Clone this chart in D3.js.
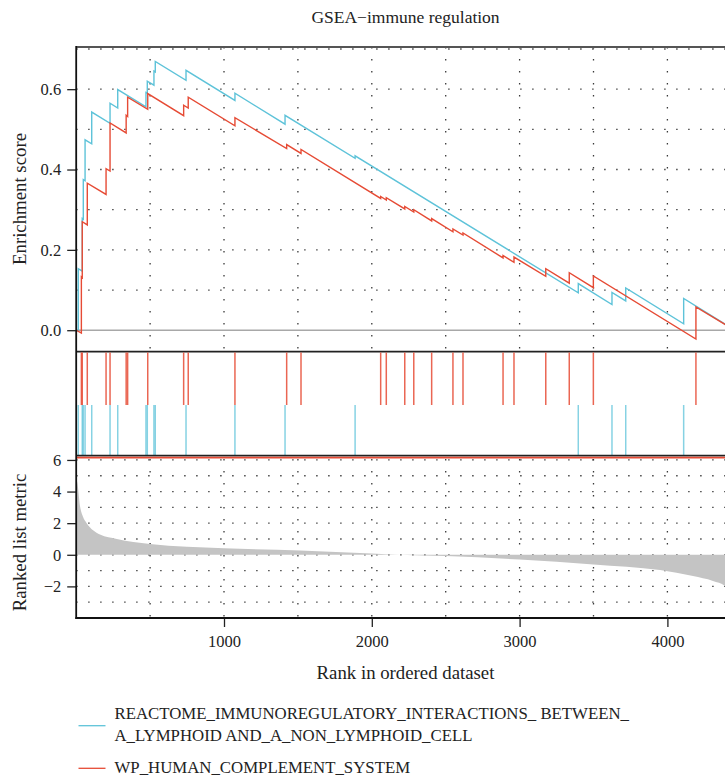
<!DOCTYPE html>
<html><head><meta charset="utf-8">
<script src="https://cdn.jsdelivr.net/npm/d3@7"></script>
<style>
body{margin:0;background:#fff;}
text{font-family:"Liberation Serif","Times New Roman",serif;fill:#222;}
</style></head>
<body><svg id="c" width="725" height="779"></svg>
<script>
const title = "GSEA\u2212immune regulation";
const seriesNames = ["REACTOME_IMMUNOREGULATORY_INTERACTIONS_ BETWEEN_|A_LYMPHOID AND_A_NON_LYMPHOID_CELL", "WP_HUMAN_COMPLEMENT_SYSTEM"];
const seriesColors = ["#5ec3d9", "#e64b35"];
const nGenes = 4456;
// blue: REACTOME set — hit ranks and running ES just before / after each hit
const blueHits   = [14, 41, 48, 60, 105, 229, 281, 472, 481, 526, 535, 743, 1074, 1413, 1887, 3397, 3625, 3718, 4110];
const blueBefore = [-0.002, 0.147, 0.276, 0.372, 0.464, 0.515, 0.553, 0.556, 0.590, 0.610, 0.643, 0.622, 0.572, 0.513, 0.428, 0.093, 0.064, 0.073, 0.016];
const blueAfter  = [0.153, 0.278, 0.375, 0.474, 0.543, 0.565, 0.599, 0.592, 0.620, 0.645, 0.669, 0.647, 0.590, 0.535, 0.434, 0.116, 0.094, 0.105, 0.079];
// red: WP complement set
const redHits   = [35, 41, 75, 202, 229, 338, 348, 484, 727, 758, 1074, 1424, 1521, 2060, 2098, 2223, 2284, 2405, 2549, 2617, 2888, 2962, 3177, 3336, 3499, 4193];
const redBefore = [-0.007, 0.131, 0.262, 0.338, 0.396, 0.491, 0.532, 0.550, 0.534, 0.553, 0.509, 0.452, 0.440, 0.328, 0.324, 0.302, 0.294, 0.272, 0.245, 0.237, 0.180, 0.169, 0.134, 0.117, 0.106, -0.022];
const redAfter  = [0.133, 0.270, 0.366, 0.402, 0.516, 0.535, 0.580, 0.589, 0.560, 0.580, 0.529, 0.462, 0.450, 0.333, 0.330, 0.308, 0.300, 0.278, 0.252, 0.242, 0.186, 0.182, 0.153, 0.143, 0.135, 0.058];
// ranked list metric samples
const metricRank  = [1, 7, 26, 46, 71, 114, 161, 275, 499, 1000, 1515, 2000, 2190, 2500, 3000, 3500, 3950, 4173, 4308, 4390, 4420, 4456];
const metricValue = [4.8, 4.6, 3.07, 2.4, 2.0, 1.55, 1.28, 1.0, 0.69, 0.42, 0.27, 0.08, 0.0, -0.08, -0.3, -0.61, -0.97, -1.35, -1.66, -1.98, -2.4, -3.6];
const xTicks = [1000, 2000, 3000, 4000];
const esTicks = [0.0, 0.2, 0.4, 0.6];
const metricTicks = [-2, 0, 2, 4, 6];

const svg = d3.select("#c");
const L = 76.2, R = 734.8;
const x = d3.scaleLinear().domain([0, nGenes]).range([L, R]);
const yES = d3.scaleLinear().domain([-0.0535, 0.705]).range([351.7, 47]);
const yM = d3.scaleLinear().domain([-4, 6.25]).range([618, 456]);
const FONT = '"Liberation Serif","Times New Roman",serif';

const gridStyle = s => s.attr("stroke", "#3a3a3a").attr("stroke-width", 1.3).attr("stroke-dasharray", "1.4 10.6");

// ---- top panel grid
const gTop = svg.append("g");
gTop.selectAll("line.h").data(d3.range(1, 8).map(i => i / 10)).join("line")
  .attr("x1", L).attr("x2", R).attr("y1", d => yES(d)).attr("y2", d => yES(d)).call(gridStyle);
gTop.selectAll("line.v").data(d3.range(500, nGenes, 500)).join("line")
  .attr("x1", d => x(d)).attr("x2", d => x(d)).attr("y1", 47).attr("y2", 351.7).call(gridStyle);
gTop.append("line").attr("x1", L).attr("x2", R).attr("y1", yES(0)).attr("y2", yES(0))
  .attr("stroke", "#a8a8a8").attr("stroke-width", 1.6);

function esPoints(hits, before, after) {
  const pts = [[0, 0]];
  hits.forEach((h, i) => { pts.push([h, before[i]]); pts.push([h, after[i]]); });
  pts.push([nGenes, 0]);
  return pts;
}
const line = d3.line().x(d => x(d[0])).y(d => yES(d[1]));
svg.append("path").attr("d", line(esPoints(blueHits, blueBefore, blueAfter)))
  .attr("fill", "none").attr("stroke", seriesColors[0]).attr("stroke-width", 1.4);
svg.append("path").attr("d", line(esPoints(redHits, redBefore, redAfter)))
  .attr("fill", "none").attr("stroke", seriesColors[1]).attr("stroke-width", 1.4);

// top panel frame
svg.append("line").attr("x1", L).attr("x2", R).attr("y1", 47).attr("y2", 47).attr("stroke", "#555").attr("stroke-width", 2);
svg.append("line").attr("x1", L).attr("x2", R).attr("y1", 351.7).attr("y2", 351.7).attr("stroke", "#222").attr("stroke-width", 1.8);

function styleAxis(g) {
  g.select(".domain").remove();
  g.selectAll("line").attr("stroke", "#222").attr("stroke-width", 1.3);
  g.selectAll("text").style("font-size", "16.5px").style("font-family", FONT).attr("fill", "#222");
}
const esAxis = d3.axisLeft(yES).tickValues(esTicks).tickFormat(d3.format(".1f")).tickSize(9).tickPadding(6);
svg.append("g").attr("transform", `translate(${L},0)`).call(esAxis).call(styleAxis);

// ---- middle panel hits
svg.selectAll("line.rh").data(redHits).join("line")
  .attr("x1", d => x(d)).attr("x2", d => x(d)).attr("y1", 352.5).attr("y2", 405)
  .attr("stroke", seriesColors[1]).attr("stroke-width", 1.5).attr("stroke-opacity", 0.85);
svg.selectAll("line.bh").data(blueHits).join("line")
  .attr("x1", d => x(d)).attr("x2", d => x(d)).attr("y1", 405).attr("y2", 455)
  .attr("stroke", seriesColors[0]).attr("stroke-width", 1.5).attr("stroke-opacity", 0.75);
svg.append("line").attr("x1", L).attr("x2", R).attr("y1", 455.6).attr("y2", 455.6).attr("stroke", "#222").attr("stroke-width", 1.6);
svg.append("line").attr("x1", L).attr("x2", R).attr("y1", 457.6).attr("y2", 457.6).attr("stroke", seriesColors[1]).attr("stroke-width", 1.8);

// ---- bottom panel
const gBot = svg.append("g");
gBot.selectAll("line.h").data(d3.range(-3, 7)).join("line")
  .attr("x1", L).attr("x2", R).attr("y1", d => yM(d)).attr("y2", d => yM(d)).call(gridStyle);
gBot.selectAll("line.v").data(d3.range(500, nGenes, 500)).join("line")
  .attr("x1", d => x(d)).attr("x2", d => x(d)).attr("y1", 459).attr("y2", 618).call(gridStyle);
const area = d3.area().x(d => x(d[0])).y0(yM(0)).y1(d => yM(d[1])).curve(d3.curveMonotoneX);
svg.append("path").attr("d", area(metricRank.map((r, i) => [r, metricValue[i]])))
  .attr("fill", "#c4c4c4").attr("stroke", "none");

const mAxis = d3.axisLeft(yM).tickValues(metricTicks).tickFormat(d => d < 0 ? "\u2212" + Math.abs(d) : d).tickSize(9).tickPadding(6);
svg.append("g").attr("transform", `translate(${L},0)`).call(mAxis).call(styleAxis);

const xAxis = d3.axisBottom(x).tickValues(xTicks).tickFormat(d3.format("d")).tickSize(9).tickPadding(8);
svg.append("g").attr("transform", `translate(0,618)`).call(xAxis).call(styleAxis);
svg.append("line").attr("x1", L - 0.8).attr("x2", R).attr("y1", 618).attr("y2", 618).attr("stroke", "#111").attr("stroke-width", 2);
// left axis line
svg.append("line").attr("x1", L).attr("x2", L).attr("y1", 46).attr("y2", 619).attr("stroke", "#111").attr("stroke-width", 1.8);

// ---- titles
svg.append("text").attr("x", 405.5).attr("y", 23).attr("text-anchor", "middle").style("font-size", "17.5px").text(title);
svg.append("text").attr("x", 405.5).attr("y", 679).attr("text-anchor", "middle").style("font-size", "18.8px").text("Rank in ordered dataset");
svg.append("text").attr("transform", "translate(26,199) rotate(-90)").attr("text-anchor", "middle").style("font-size", "18.8px").text("Enrichment score");
svg.append("text").attr("transform", "translate(26,542.5) rotate(-90)").attr("text-anchor", "middle").style("font-size", "18.8px").text("Ranked list metric");

// ---- legend
const legY = [725.7, 768.3];
seriesNames.forEach((name, i) => {
  svg.append("line").attr("x1", 78.5).attr("x2", 105.5).attr("y1", legY[i]).attr("y2", legY[i])
    .attr("stroke", seriesColors[i]).attr("stroke-width", 1.3);
  const lines = name.split("|");
  const t = svg.append("text").attr("x", 114.5).style("font-size", "16.8px");
  const base = lines.length === 2 ? legY[i] - 6.5 : legY[i] + 4.5;
  lines.forEach((ln, j) => t.append("tspan").attr("x", 114.5).attr("y", base + j * 22).text(ln));
});
</script></body></html>
